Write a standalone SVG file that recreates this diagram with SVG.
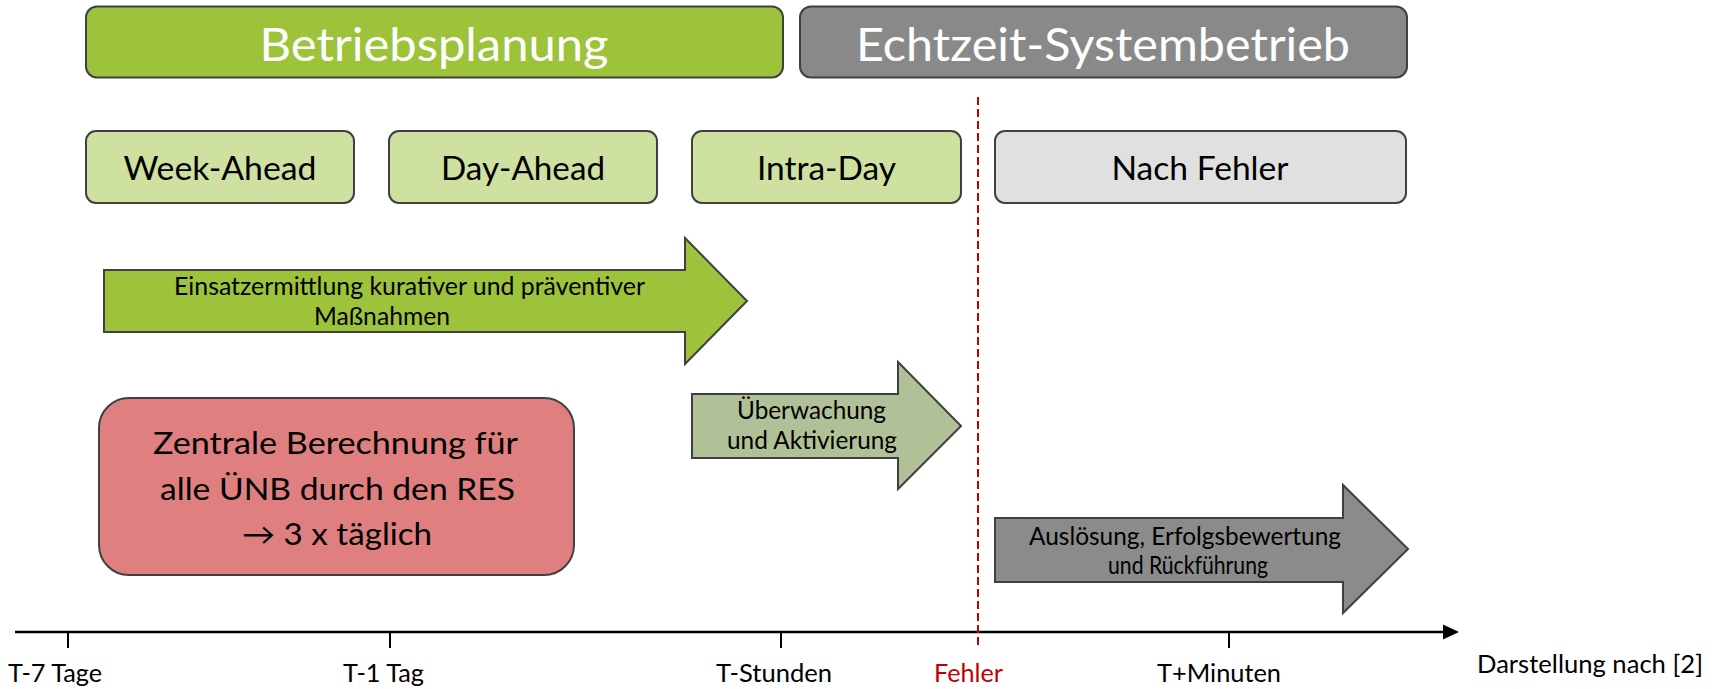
<svg xmlns="http://www.w3.org/2000/svg" width="1712" height="689" viewBox="0 0 1712 689">
<style>
text{font-family:Lato,"Open Sans","Liberation Sans",sans-serif;text-anchor:middle;fill:#000}
.box{stroke:#404040;stroke-width:2}
.title{font-size:47px;fill:#fff}
.phase{font-size:32px}
.small{font-size:24.5px}
.big{font-size:30px}
.axl{font-size:24.5px}
</style>
<rect width="1712" height="689" fill="#fff"/>
<g id="betriebsplanung">
<rect class="box" x="86" y="6.5" width="697" height="71" rx="11" fill="#9DC33B"/>
<text class="title" x="434" y="61" textLength="349" lengthAdjust="spacingAndGlyphs">Betriebsplanung</text>
</g>
<g id="echtzeit">
<rect class="box" x="800" y="6.5" width="607" height="71" rx="11" fill="#898989"/>
<text class="title" x="1103" y="61" textLength="494" lengthAdjust="spacingAndGlyphs">Echtzeit-Systembetrieb</text>
</g>
<g id="week-ahead">
<rect class="box" x="86" y="131" width="268" height="72" rx="10" fill="#CEE1A0"/>
<text class="phase" x="220" y="180" textLength="193" lengthAdjust="spacingAndGlyphs">Week-Ahead</text>
</g>
<g id="day-ahead">
<rect class="box" x="389" y="131" width="268" height="72" rx="10" fill="#CEE1A0"/>
<text class="phase" x="523" y="180" textLength="164" lengthAdjust="spacingAndGlyphs">Day-Ahead</text>
</g>
<g id="intra-day">
<rect class="box" x="692" y="131" width="269" height="72" rx="10" fill="#CEE1A0"/>
<text class="phase" x="826.5" y="180" textLength="139" lengthAdjust="spacingAndGlyphs">Intra-Day</text>
</g>
<g id="nach-fehler">
<rect class="box" x="995" y="131" width="411" height="72" rx="10" fill="#E0E0E0"/>
<text class="phase" x="1200" y="180" textLength="177" lengthAdjust="spacingAndGlyphs">Nach Fehler</text>
</g>
<g id="einsatzermittlung">
<polygon class="box" points="104,270 685,270 685,238 747,301 685,364 685,332 104,332" fill="#9DC33B"/>
<text class="small" x="409.5" y="295" textLength="471" lengthAdjust="spacingAndGlyphs">Einsatzermittlung kurativer und präventiver</text>
<text class="small" x="382" y="325" textLength="136" lengthAdjust="spacingAndGlyphs">Maßnahmen</text>
</g>
<g id="ueberwachung">
<polygon class="box" points="692,394 898,394 898,362 961,426 898,489 898,458 692,458" fill="#B1C197"/>
<text class="small" x="811.5" y="419" textLength="149" lengthAdjust="spacingAndGlyphs">Überwachung</text>
<text class="small" x="812" y="449" textLength="170" lengthAdjust="spacingAndGlyphs">und Aktivierung</text>
</g>
<g id="zentrale-berechnung">
<rect class="box" x="99" y="398" width="475" height="177" rx="30" fill="#DF7F7F"/>
<text class="big" x="335.5" y="454" textLength="365" lengthAdjust="spacingAndGlyphs">Zentrale Berechnung für</text>
<text class="big" x="337.5" y="500" textLength="355" lengthAdjust="spacingAndGlyphs">alle ÜNB durch den RES</text>
<text class="big" x="337" y="545" textLength="190" lengthAdjust="spacingAndGlyphs">→ 3 x täglich</text>
</g>
<g id="ausloesung">
<polygon class="box" points="995,518 1343,518 1343,485 1408,549 1343,613 1343,582 995,582" fill="#8B8B8B"/>
<text class="small" x="1185" y="545" textLength="312" lengthAdjust="spacingAndGlyphs">Auslösung, Erfolgsbewertung</text>
<text class="small" x="1188" y="574" textLength="160" lengthAdjust="spacingAndGlyphs">und Rückführung</text>
</g>
<g id="connectors">
<line x1="15" y1="632" x2="1446" y2="632" stroke="#000" stroke-width="2.5"/>
<polygon points="1443,624.5 1459,632 1443,639.5" fill="#000"/>
<g stroke="#000" stroke-width="2">
<line x1="68" y1="632" x2="68" y2="648"/>
<line x1="390" y1="632" x2="390" y2="648"/>
<line x1="781" y1="632" x2="781" y2="648"/>
<line x1="1229" y1="632" x2="1229" y2="648"/>
</g>
<line x1="978" y1="97" x2="978" y2="648" stroke="#C00000" stroke-width="2" stroke-dasharray="8 4"/>
</g>
<g id="axis-labels">
<text class="axl" x="55" y="682" textLength="94" lengthAdjust="spacingAndGlyphs">T-7 Tage</text>
<text class="axl" x="383.5" y="682" textLength="81" lengthAdjust="spacingAndGlyphs">T-1 Tag</text>
<text class="axl" x="774" y="682" textLength="116" lengthAdjust="spacingAndGlyphs">T-Stunden</text>
<text class="axl" x="968.5" y="682" textLength="69" lengthAdjust="spacingAndGlyphs" style="fill:#C00000">Fehler</text>
<text class="axl" x="1219" y="682" textLength="124" lengthAdjust="spacingAndGlyphs">T+Minuten</text>
<text class="axl" x="1590" y="673" textLength="226" lengthAdjust="spacingAndGlyphs">Darstellung nach [2]</text>
</g>
</svg>
